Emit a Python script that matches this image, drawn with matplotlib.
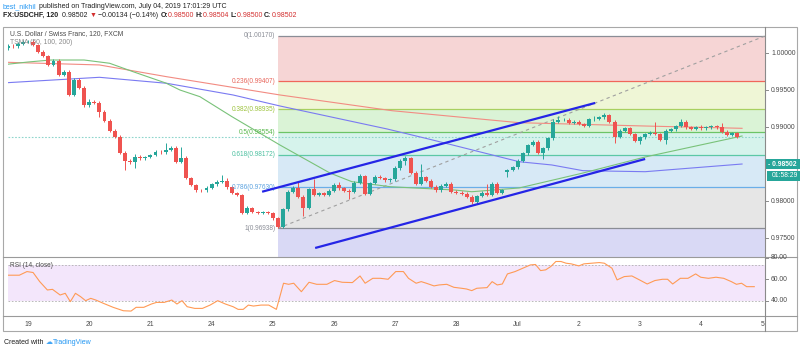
import matplotlib
matplotlib.use("Agg")
import matplotlib.pyplot as plt
from matplotlib.patches import Rectangle
from matplotlib.lines import Line2D
import numpy as np

plt.rcParams['font.family'] = ['Liberation Sans', 'DejaVu Sans']

# ---------------- data ----------------
day_labels = ["19", "20", "21", "24", "25", "26", "27", "28", "Jul", "2", "3", "4", "5"]
first_index = -4
first_open = 1.00068
closes = [
    1.00099, 1.00092, 1.00126, 1.00153, 1.00157, 1.00112, 1.00022, 0.99963, 0.99842, 0.99900, 0.99706, 0.99751,
    0.99436, 0.99639, 0.99531, 0.99300, 0.99345, 0.99332, 0.99210, 0.99088, 0.98953, 0.98868, 0.98655, 0.98547,
    0.98523, 0.98601, 0.98579, 0.98597, 0.98624, 0.98669, 0.98658, 0.98692, 0.98719, 0.98533, 0.98583, 0.98313,
    0.98218, 0.98150, 0.98144, 0.98184, 0.98228, 0.98263, 0.98276, 0.98187, 0.98110, 0.98083, 0.97839, 0.97907,
    0.97853, 0.97843, 0.97853, 0.97839, 0.97768, 0.97654, 0.97893, 0.98127, 0.98178, 0.98060, 0.97907, 0.98164,
    0.98083, 0.98110, 0.98083, 0.98141, 0.98218, 0.98173, 0.98141, 0.98130, 0.98249, 0.98340, 0.98096, 0.98245,
    0.98330, 0.98313, 0.98279, 0.98295, 0.98444, 0.98547, 0.98579, 0.98384, 0.98232, 0.98322, 0.98276, 0.98195,
    0.98150, 0.98205, 0.98232, 0.98127, 0.98114, 0.98103, 0.98060, 0.97984, 0.98069, 0.98114, 0.98083, 0.98232,
    0.98114, 0.98150, 0.98421, 0.98458, 0.98547, 0.98647, 0.98759, 0.98804, 0.98655, 0.98715, 0.98850, 0.99075,
    0.99098, 0.99104, 0.99057, 0.99075, 0.99043, 0.99016, 0.99107, 0.99115, 0.99134, 0.99165, 0.99075, 0.98872,
    0.98949, 0.98985, 0.98908, 0.98817, 0.98863, 0.98908, 0.98922, 0.98908, 0.98827, 0.98953, 0.98972, 0.99016,
    0.99075, 0.98999, 0.98976, 0.98996, 0.98985, 0.98996, 0.99016, 0.98999, 0.98939, 0.98895, 0.98918, 0.98872,
]
gap_opens = {94: 0.98394}
upper_wick_pips = [
    2, 2, 2, 2, 2, 2, 2, 2, 2, 2, 2, 2,
    2, 3, 2, 2, 3, 2, 2, 2, 2, 2, 2, 2,
    2, 3, 2, 2, 2, 2, 2, 10, 2, 2, 15, 3,
    2, 2, 2, 2, 2, 2, 8, 3, 2, 2, 2, 3,
    2, 2, 2, 2, 2, 2, 2, 2, 3, 9, 2, 2,
    14, 2, 2, 2, 3, 4, 2, 2, 2, 3, 2, 2,
    2, 2, 2, 2, 3, 2, 3, 2, 2, 18, 2, 2,
    2, 2, 2, 2, 2, 2, 2, 2, 2, 2, 12, 3,
    2, 2, 2, 2, 2, 2, 2, 2, 2, 2, 2, 3,
    5, 2, 2, 2, 2, 2, 2, 4, 2, 3, 2, 2,
    2, 2, 2, 2, 2, 2, 2, 15, 2, 2, 2, 2,
    3, 2, 2, 2, 3, 2, 2, 2, 6, 2, 2, 2,
]
lower_wick_pips = [
    2, 2, 2, 2, 2, 2, 2, 2, 2, 2, 2, 2,
    2, 2, 2, 2, 3, 2, 7, 2, 2, 2, 2, 12,
    2, 7, 2, 2, 2, 2, 2, 2, 2, 2, 2, 2,
    2, 2, 2, 2, 2, 2, 2, 2, 2, 2, 2, 2,
    2, 2, 2, 2, 2, 2, 2, 2, 2, 2, 11, 2,
    2, 2, 2, 2, 2, 2, 2, 10, 2, 2, 2, 2,
    2, 2, 2, 2, 2, 2, 6, 2, 2, 2, 2, 2,
    2, 2, 2, 2, 2, 2, 2, 2, 2, 2, 2, 2,
    2, 2, 7, 2, 2, 2, 2, 2, 2, 8, 2, 2,
    2, 2, 2, 2, 2, 2, 2, 2, 2, 2, 2, 9,
    2, 2, 2, 2, 5, 2, 2, 2, 2, 5, 2, 2,
    2, 2, 2, 2, 2, 2, 2, 2, 2, 2, 2, 2,
]

# moving averages (TSMA 50 / 100 / 200), read at knots
ma50_idx = [-4.1, 0, 4.5, 11, 16, 20.6, 27, 29.8, 33.7, 40, 49.4, 59.2, 63.5, 71, 83.7, 87, 96.3, 108.8, 121, 140]
ma50_val = [0.99851, 0.99882, 0.99909, 0.99909, 0.99865, 0.99751, 0.99598, 0.99503, 0.99413, 0.99142, 0.98759,
            0.98380, 0.98263, 0.98195, 0.98150, 0.98127, 0.98178, 0.98380, 0.98597, 0.98881]
ma100_idx = [-4.1, 14, 27.2, 40.2, 49.4, 70.4, 78.8, 96.3, 102.7, 108.8, 121, 140]
ma100_val = [0.99602, 0.99675, 0.99594, 0.99436, 0.99287, 0.98976, 0.98836, 0.98533, 0.98489, 0.98412, 0.98398, 0.98502]
ma200_idx = [-4.1, 14, 27.2, 49.4, 71.4, 96.3, 121, 140]
ma200_val = [0.99878, 0.99842, 0.99683, 0.99436, 0.99223, 0.99061, 0.99016, 0.98985]

# channel lines
chan_up_idx = [45.9, 111.2]
chan_up_val = [0.98127, 0.99328]
chan_lo_idx = [56.3, 121]
chan_lo_val = [0.97366, 0.98570]

# fibonacci retracement
fib_start_idx = 49.0
fib_top = 1.00234
fib_bottom = 0.97632
fib_ratios = [0, 0.236, 0.382, 0.5, 0.618, 0.786, 1, 1.272]
fib_labels = ["0(1.00170)", "0.236(0.99407)", "0.382(0.98935)", "0.5(0.98554)",
              "0.618(0.98172)", "0.786(0.97630)", "1(0.96938)", ""]
fib_line_colors = ["#8a8d96", "#f0665a", "#a8d060", "#6cc466", "#5cc8a6", "#6aaee8", "#8a8d96", "#8080e0"]
fib_label_colors = ["#8a8d96", "#e8645a", "#9cc23c", "#58b84c", "#4cc0a0", "#5aa2e0", "#8a8d96", "#8080e0"]
fib_fill_colors = ["#f6d5d5", "#eff6d6", "#daf3d6", "#d6f3ec", "#d7e9f6", "#e6e6e6", "#d9d9f5"]

# RSI (14, close)
rsi_idx = [-4.2, -1.7, -0.2, 1.0, 2.3, 3.8, 4.8, 6.3, 7.3, 8.3, 9.3, 10.3, 11.3, 12.3, 13.3, 14.8, 16.7, 18.7,
           20.2, 21.2, 22.7, 24.2, 25.2, 26.7, 28.2, 29.2, 30.2, 31.2, 32.7, 34.2, 35.7, 37.2, 38.7, 40.2, 41.2,
           42.2, 43.2, 44.2, 45.7, 47.2, 48.7, 50.1, 51.1, 52.1, 53.6, 55.1, 56.6, 58.6, 60.1, 61.6, 63.6, 65.1,
           66.1, 67.6, 69.1, 70.6, 72.1, 73.6, 74.6, 76.1, 77.1, 78.1, 79.6, 80.6, 82.1, 83.5, 85.0, 86.0, 87.0,
           88.0, 90.0, 91.0, 92.0, 93.0, 94.0, 95.5, 97.0, 98.5, 99.5, 100.5, 101.5, 102.5, 103.5, 104.5, 105.5,
           106.5, 108.0, 109.0, 110.5, 112.0, 113.0, 114.5, 115.5, 116.9, 118.4, 119.9, 121.4, 122.9, 124.4,
           125.4, 126.4, 127.9, 129.4, 130.9, 131.9, 133.4, 134.9, 136.4, 137.9, 138.9, 139.9, 140.9, 142.4]
rsi_val = [63.8, 63.8, 67.2, 66.3, 57.8, 50.0, 50.6, 45.3, 46.9, 39.1, 46.9, 43.8, 40.0, 42.2, 40.6, 37.5, 33.8,
           30.6, 30.3, 33.8, 33.8, 36.9, 38.4, 38.4, 40.6, 36.9, 40.0, 34.4, 32.8, 32.8, 35.9, 40.0, 36.9, 34.4,
           31.9, 31.9, 35.9, 35.0, 35.9, 35.9, 31.9, 56.3, 55.3, 56.3, 48.4, 57.2, 55.3, 55.3, 58.8, 57.2, 56.9,
           63.1, 56.3, 60.9, 60.9, 60.0, 67.2, 67.2, 60.9, 56.3, 57.8, 56.3, 53.8, 54.7, 55.3, 52.5, 51.6, 50.9,
           49.4, 51.6, 52.2, 57.8, 54.7, 55.6, 65.0, 67.2, 70.3, 73.4, 73.8, 68.1, 68.8, 71.9, 76.6, 76.6, 75.0,
           74.4, 72.5, 74.4, 75.0, 75.6, 75.0, 70.3, 59.4, 62.5, 63.1, 59.4, 55.6, 58.8, 60.0, 60.0, 55.6, 60.9,
           60.9, 65.0, 61.9, 60.9, 61.9, 60.9, 57.8, 55.3, 56.3, 53.1, 53.1]
rsi_band = [73.4, 40.0]

price_ticks = [1.0, 0.995, 0.990, 0.980, 0.975]
price_tick_labels = ["1.00000", "0.99500", "0.99000", "0.98000", "0.97500"]
rsi_ticks = [80, 60, 40]
rsi_tick_labels = ["80.00", "60.00", "40.00"]
last_label = "0.98502"
last_label_level = 0.98502
countdown = "01:58:29"

# ---------------- figure ----------------
W, H = 800, 352
fig = plt.figure(figsize=(W / 100, H / 100), dpi=100)
fig.patch.set_facecolor("white")


def fx(x):
    return x / W


def fy(y):
    return 1 - y / H


X0, X1 = 8, 765
TOP, SEP, BOT = 28, 257, 316
ax = fig.add_axes([fx(X0), fy(SEP), (X1 - X0) / W, (SEP - TOP) / H])
rax = fig.add_axes([fx(X0), fy(BOT), (X1 - X0) / W, (BOT - SEP) / H])
for a in (ax, rax):
    a.set_axis_off()
    a.set_xlim(-3.92, 144.5)
ax.set_ylim(0.97244, 1.00342)
rax.set_ylim(25.7, 80.8)

# fib bands
xr = 150
levels = [fib_top - r * (fib_top - fib_bottom) for r in fib_ratios]
for k in range(len(levels) - 1):
    ax.fill_between([fib_start_idx, xr], levels[k + 1], levels[k], color=fib_fill_colors[k], lw=0, zorder=0)
for k, lev in enumerate(levels[:-1]):
    ax.hlines(lev, fib_start_idx, xr, color=fib_line_colors[k], lw=0.9, zorder=1)
    ax.text(fib_start_idx - 0.5, lev, fib_labels[k], ha="right", va="center", fontsize=4.7,
            color=fib_label_colors[k], zorder=6)
ax.plot([fib_start_idx, 144.5], [fib_bottom, fib_top], color="#a0a0a0", lw=0.8, ls=(0, (3, 3)), zorder=2)

# moving averages
ax.plot(ma200_idx, ma200_val, color="#f28b82", lw=0.8, zorder=3)
ax.plot(ma100_idx, ma100_val, color="#7a7af2", lw=0.8, zorder=3)
ax.plot(ma50_idx, ma50_val, color="#79c279", lw=0.8, zorder=3)

# last price line
ax.axhline(closes[-1], color="#8fd6cc", lw=0.8, ls=(0, (1.5, 1.5)), zorder=2)

# candles
n = len(closes)
idx = np.arange(first_index, first_index + n)
opens = [first_open] + closes[:-1]
for k, v in gap_opens.items():
    opens[k - first_index] = v
opens = np.array(opens)
cl = np.array(closes)
up = cl >= opens
hi = np.maximum(opens, cl) + np.array(upper_wick_pips) * 0.0001
lo = np.minimum(opens, cl) - np.array(lower_wick_pips) * 0.0001
cols = np.where(up, "#26a69a", "#ef5350")
ax.vlines(idx, lo, hi, colors=cols, lw=0.7, zorder=4)
body_lo = np.minimum(opens, cl)
body_h = np.maximum(np.abs(cl - opens), 0.00004)
ax.bar(idx, body_h, bottom=body_lo, width=0.78, color=cols, lw=0, zorder=5)

# channel
ax.plot(chan_up_idx, chan_up_val, color="#2525e6", lw=1.6, zorder=6, solid_capstyle="butt")
ax.plot(chan_lo_idx, chan_lo_val, color="#2525e6", lw=1.6, zorder=6, solid_capstyle="butt")

# chart titles
ax.text(0.003, 1 - (34 - TOP) / (SEP - TOP), "U.S. Dollar / Swiss Franc, 120, FXCM",
        transform=ax.transAxes, fontsize=4.9, color="#4a4a4a", va="center", ha="left", zorder=7)
ax.text(0.003, 1 - (42.7 - TOP) / (SEP - TOP), "TSMA (50, 100, 200)",
        transform=ax.transAxes, fontsize=4.9, color="#8a8a8a", va="center", ha="left", zorder=7)

# RSI panel
rax.axhspan(rsi_band[1], rsi_band[0], color="#f3e6fb", lw=0, zorder=0)
for b in rsi_band:
    rax.axhline(b, color="#b0b0b0", lw=0.6, ls=(0, (2, 2)), zorder=1)
rax.plot(rsi_idx, rsi_val, color="#ff9a55", lw=0.8, zorder=3)
rax.text(0.003, 0.86, "RSI (14, close)", transform=rax.transAxes, fontsize=4.7, color="#4a4a4a",
         va="center", ha="left")

# frames and separators
fig.add_artist(Rectangle((fx(3), fy(331)), (797 - 3) / W, (331 - 27) / H, transform=fig.transFigure,
                         fill=False, ec="#a8a8a8", lw=0.8))
for yy in (SEP, BOT):
    fig.add_artist(Line2D([fx(3), fx(797)], [fy(yy), fy(yy)], transform=fig.transFigure, color="#9a9a9a", lw=0.8))
fig.add_artist(Line2D([fx(X1), fx(X1)], [fy(27), fy(331)], transform=fig.transFigure, color="#8a8a8a", lw=0.8))

# price axis labels
for t, lab in zip(price_ticks, price_tick_labels):
    yd = ax.transData.transform((0, t))[1]
    yf = yd / fig.bbox.height
    fig.add_artist(Line2D([fx(X1), fx(X1 + 3)], [yf, yf], transform=fig.transFigure, color="#8a8a8a", lw=0.7))
    fig.text(fx(X1 + 6), yf, lab, fontsize=4.9, color="#4a4a4a", va="center", ha="left")
for t, lab in zip(rsi_ticks, rsi_tick_labels):
    yd = rax.transData.transform((0, t))[1]
    yf = yd / fig.bbox.height
    fig.add_artist(Line2D([fx(X1), fx(X1 + 3)], [yf, yf], transform=fig.transFigure, color="#8a8a8a", lw=0.7))
    fig.text(fx(X1 + 6), yf, lab, fontsize=4.9, color="#4a4a4a", va="center", ha="left")

# last price label boxes
yd = ax.transData.transform((0, last_label_level))[1] / fig.bbox.height
box_h = 10 / H
fig.add_artist(Rectangle((fx(X1 + 0.5), yd - box_h / 2), (800 - X1) / W, box_h, transform=fig.transFigure,
                         color="#26a69a", lw=0))
fig.text(fx(X1 + 3), yd, "- " + last_label, fontsize=4.9, color="white", va="center", ha="left", weight="bold")
fig.add_artist(Rectangle((fx(X1 + 2), yd - box_h / 2 - 11.5 / H), (800 - X1 - 2) / W, box_h,
                         transform=fig.transFigure, color="#26a69a", lw=0))
fig.text(fx(X1 + 7), yd - 11.5 / H, countdown, fontsize=4.9, color="white", va="center", ha="left")

# date axis labels
for k, lab in enumerate(day_labels):
    xd = rax.transData.transform((12 * k, 0))[0] / fig.bbox.width
    fig.text(xd, fy(324), lab, fontsize=4.9, color="#4a4a4a", va="center", ha="center")

# header runs
renderer = fig.canvas.get_renderer()


def runs(x, y, parts, size=4.8):
    for txt, col, wt in parts:
        t = fig.text(fx(x), fy(y), txt, fontsize=size, color=col, weight=wt, va="center", ha="left")
        bb = t.get_window_extent(renderer)
        x = bb.x1


dark = "#202020"
red = "#d32f2f"
runs(3, 6.7, [("best_nikhil", "#2196f3", "normal"),
              (" published on TradingView.com, July 04, 2019 17:01:29 UTC", dark, "normal")], size=5.0)
runs(3, 15.7, [("FX:USDCHF, 120", dark, "bold"), ("  0.98502 ", dark, "normal"), ("▼", red, "normal"),
               (" −0.00134 (−0.14%) ", dark, "normal"),
               ("O:", dark, "bold"), ("0.98500 ", red, "normal"),
               ("H:", dark, "bold"), ("0.98504 ", red, "normal"),
               ("L:", dark, "bold"), ("0.98500 ", red, "normal"),
               ("C:", dark, "bold"), ("0.98502", red, "normal")], size=5.0)
runs(4, 343, [("Created with ", dark, "normal"), ("☁", "#42a5f5", "normal"),
              ("TradingView", "#2196f3", "normal")], size=5.0)

fig.savefig("out.png", dpi=100, facecolor="white")
